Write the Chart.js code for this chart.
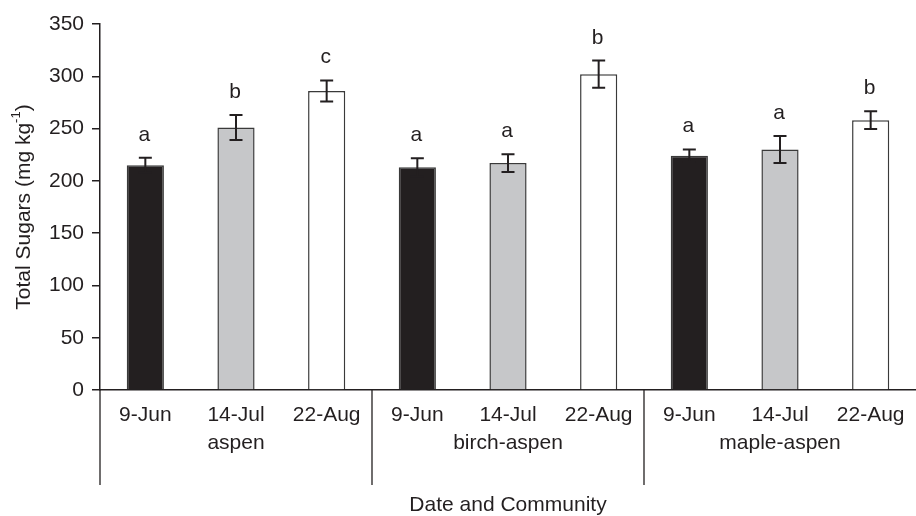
<!DOCTYPE html>
<html>
<head>
<meta charset="utf-8">
<script src="https://cdn.jsdelivr.net/npm/chart.js@4/dist/chart.umd.min.js"></script>
<style>
  html, body { margin: 0; padding: 0; background: #fff; }
  #wrap { width: 916px; height: 516px; }
</style>
</head>
<body>
<div id="wrap"><canvas id="sugars"></canvas></div>
<script>
const dates = ['9-Jun', '14-Jul', '22-Aug'];
const communities = ['aspen', 'birch-aspen', 'maple-aspen'];
const sugars = [215, 251, 286, 213, 217, 302, 224, 230, 258];
const errors = [7, 12, 10, 8.5, 8.5, 13, 6, 13, 8.5];
const letters = ['a', 'b', 'c', 'a', 'a', 'b', 'a', 'a', 'b'];
const dateColors = ['#231f20', '#c6c7c9', '#ffffff'];

const ink = '#231f20';
const font = 'Liberation Sans, Arial, sans-serif';

// two line tick labels: date, and the community under the middle bar
let labels = [];
communities.forEach(function (c) {
    dates.forEach(function (d, j) {
        labels.push([d, j === 1 ? c : '']);
    });
});

const extras = {
    id: 'extras',
    afterDatasetsDraw: function (chart) {
        const ctx = chart.ctx;
        const x = chart.scales.x;
        const y = chart.scales.y;
        const area = chart.chartArea;
        ctx.save();
        ctx.strokeStyle = ink;
        ctx.fillStyle = ink;

        // error bars
        ctx.lineWidth = 2;
        sugars.forEach(function (v, i) {
            const px = x.getPixelForValue(i);
            const top = y.getPixelForValue(v + errors[i]);
            const bot = y.getPixelForValue(v - errors[i]);
            ctx.beginPath();
            ctx.moveTo(px, top); ctx.lineTo(px, bot);
            ctx.moveTo(px - 6.5, top); ctx.lineTo(px + 6.5, top);
            ctx.moveTo(px - 6.5, bot); ctx.lineTo(px + 6.5, bot);
            ctx.stroke();
        });

        // significance letters
        ctx.font = '21px ' + font;
        ctx.textAlign = 'center';
        ctx.textBaseline = 'alphabetic';
        sugars.forEach(function (v, i) {
            const px = x.getPixelForValue(i);
            ctx.fillText(letters[i], px - 1, y.getPixelForValue(v + errors[i]) - 17);
        });

        // group separators below the axis
        ctx.lineWidth = 1.3;
        for (let g = 0; g < communities.length; g++) {
            let sx = area.left;
            if (g > 0) {
                sx = (x.getPixelForValue(g * 3 - 1) + x.getPixelForValue(g * 3)) / 2;
            }
            ctx.beginPath();
            ctx.moveTo(sx, area.bottom);
            ctx.lineTo(sx, area.bottom + 95);
            ctx.stroke();
        }

        // x title
        ctx.font = '21px ' + font;
        ctx.textBaseline = 'middle';
        ctx.fillText('Date and Community', (area.left + area.right) / 2, 505);

        // y title with superscript
        ctx.translate(24, (area.top + area.bottom) / 2);
        ctx.rotate(-Math.PI / 2);
        const main = 'Total Sugars (mg kg';
        ctx.font = '21px ' + font;
        const w1 = ctx.measureText(main).width;
        ctx.font = '13px ' + font;
        const w2 = ctx.measureText('-1').width;
        ctx.font = '21px ' + font;
        const w3 = ctx.measureText(')').width;
        let sx = -(w1 + w2 + w3) / 2;
        ctx.textAlign = 'left';
        ctx.fillText(main, sx, 0);
        ctx.font = '13px ' + font;
        ctx.fillText('-1', sx + w1, -8);
        ctx.font = '21px ' + font;
        ctx.fillText(')', sx + w1 + w2, 0);
        ctx.restore();
    }
};

new Chart(document.getElementById('sugars'), {
    type: 'bar',
    data: {
        labels: labels,
        datasets: [{
            data: sugars,
            backgroundColor: sugars.map(function (v, i) { return dateColors[i % 3]; }),
            borderColor: '#3a3a3a',
            borderWidth: 1.5,
            categoryPercentage: 1,
            barPercentage: 0.41
        }]
    },
    options: {
        responsive: true,
        maintainAspectRatio: false,
        animation: false,
        layout: { padding: { top: 24, right: 0, bottom: 0, left: 0 } },
        plugins: { legend: { display: false }, tooltip: { enabled: false } },
        scales: {
            x: {
                afterFit: function (s) { s.height = 126; },
                grid: { display: false, drawTicks: false },
                border: { color: ink, width: 1.5 },
                ticks: {
                    color: ink,
                    padding: 11,
                    maxRotation: 0,
                    autoSkip: false,
                    font: { family: font, size: 21, lineHeight: 1.35 }
                }
            },
            y: {
                min: 0,
                max: 350,
                afterFit: function (s) { s.width = 100; },
                grid: { drawOnChartArea: false, drawTicks: true, tickLength: 8, color: ink, lineWidth: 1.5 },
                border: { color: ink, width: 1.5 },
                ticks: {
                    stepSize: 50,
                    color: ink,
                    padding: 8,
                    font: { family: font, size: 21 }
                }
            }
        }
    },
    plugins: [extras]
});
</script>
</body>
</html>
